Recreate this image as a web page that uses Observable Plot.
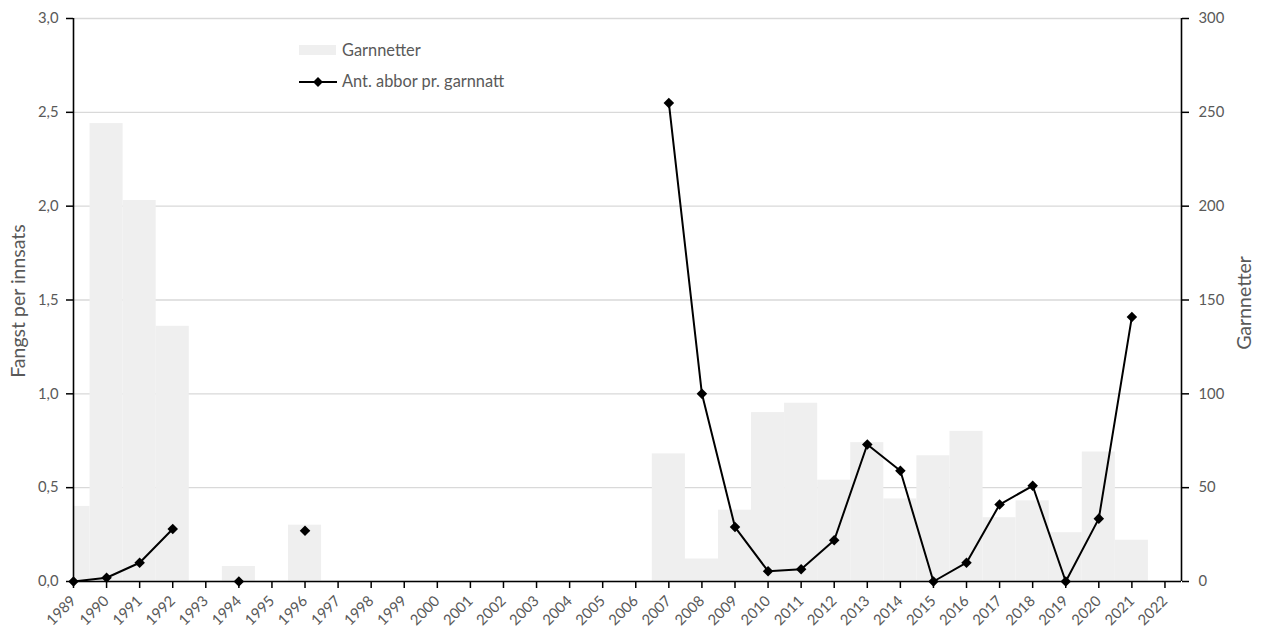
<!DOCTYPE html>
<html><head><meta charset="utf-8">
<script src="https://cdn.jsdelivr.net/npm/d3@7"></script>
<script src="https://cdn.jsdelivr.net/npm/@observablehq/plot@0.6"></script>
<style>
body{margin:0;background:#fff;font-family:Lato,"Open Sans",sans-serif;}
#wrap{position:relative;width:1266px;height:632px;}
.lbl{position:absolute;color:#595959;white-space:nowrap;line-height:1;}
</style></head><body><div id="wrap"></div>
<script>
const years = [1989,1990,1991,1992,1993,1994,1995,1996,1997,1998,1999,2000,2001,2002,2003,2004,2005,2006,2007,2008,2009,2010,2011,2012,2013,2014,2015,2016,2017,2018,2019,2020,2021];
const garnnetter = [40,244,203,136,null,8,null,30,null,null,null,null,null,null,null,null,null,null,68,12,38,90,95,54,74,44,67,80,34,43,26,69,22];
const abbor = [0,0.02,0.1,0.28,null,0,null,0.27,null,null,null,null,null,null,null,null,null,null,2.55,1.0,0.29,0.055,0.065,0.22,0.73,0.59,0,0.1,0.41,0.51,0,0.335,1.41];
const xTicks = [1989,1990,1991,1992,1993,1994,1995,1996,1997,1998,1999,2000,2001,2002,2003,2004,2005,2006,2007,2008,2009,2010,2011,2012,2013,2014,2015,2016,2017,2018,2019,2020,2021,2022];
const leftTicks = [0,0.5,1,1.5,2,2.5,3];
const rightTicks = [0,50,100,150,200,250,300];
const leftTitle = "Fangst per innsats";
const rightTitle = "Garnnetter";
const legendBar = "Garnnetter";
const legendLine = "Ant. abbor pr. garnnatt";

const FAMILY = "Lato";
const ctx = document.createElement("canvas").getContext("2d");
function fit(text, target){ ctx.font = `100px ${FAMILY}`; return 100*target/ctx.measureText(text).width; }
const tickSizePx = (fit("3,0",22) + fit("300",24))/2;
const titleSize = (fit(leftTitle,152) + fit(rightTitle,95))/2;
const legendSize = (fit(legendBar,78) + fit(legendLine,164))/2;

const rows = years.map((y,i)=>({year:y, garn:garnnetter[i], abbor:abbor[i]}));
const bars = rows.filter(d=>d.garn!=null);
const pts = rows.filter(d=>d.abbor!=null);
const fmt = d => d.toFixed(1).replace(".", ",");
const rScale = rightTicks[rightTicks.length-1] / leftTicks[leftTicks.length-1]; // 300 -> 3,0
const xEnd = 2022.5;
const textColor = "#595959";

const plot = Plot.plot({
  width:1266, height:632, marginLeft:73, marginRight:85, marginTop:18, marginBottom:51,
  style:{fontFamily:FAMILY, fontSize:tickSizePx+"px", background:"#fff", overflow:"visible"},
  x:{type:"linear", domain:[1989, xEnd], axis:null},
  y:{domain:[0,3], axis:null},
  marks:[
    Plot.gridY(leftTicks, {stroke:"#d9d9d9", strokeOpacity:1, strokeWidth:1.3}),
    Plot.rectY(bars, {x1:d=>d.year-0.5, x2:d=>d.year+0.5, y:d=>d.garn/rScale, fill:"#efefef", clip:true, inset:0}),
    Plot.ruleY([0], {stroke:"#000", strokeWidth:1.6}),
    Plot.ruleX([1989, xEnd], {stroke:"#000", strokeWidth:1.6}),
    Plot.axisY(leftTicks, {anchor:"left", tickSize:7, stroke:"#000", strokeWidth:1.5, tickFormat:()=>"", label:null}),
    Plot.axisY(leftTicks, {anchor:"left", tickSize:0, tickPadding:15, fill:textColor, tickFormat:fmt, label:null, fontSize:tickSizePx}),
    Plot.axisY(rightTicks.map(d=>d/rScale), {anchor:"right", tickSize:7, stroke:"#000", strokeWidth:1.5, tickFormat:()=>"", label:null}),
    Plot.axisY(rightTicks.map(d=>d/rScale), {anchor:"right", tickSize:0, tickPadding:17, fill:textColor, tickFormat:d=>String(Math.round(d*rScale)), label:null, fontSize:tickSizePx}),
    Plot.axisX(xTicks, {anchor:"bottom", tickSize:7, stroke:"#000", strokeWidth:1.5, tickFormat:()=>"", label:null}),
    Plot.axisX(xTicks, {anchor:"bottom", tickSize:0, tickPadding:17, tickRotate:-45, fill:textColor, tickFormat:d=>String(d), label:null, fontSize:tickSizePx}),
    Plot.line(rows, {x:"year", y:"abbor", stroke:"#000", strokeWidth:2, defined:d=>d.abbor!=null}),
    Plot.dot(pts, {x:"year", y:"abbor", symbol:"square", rotate:45, r:4.2, fill:"#000", stroke:null})
  ]
});
const wrap = document.getElementById("wrap");
wrap.appendChild(plot);

function addLabel(txt, left, top, size){
  const d = document.createElement("div");
  d.className = "lbl"; d.textContent = txt;
  d.style.fontSize = size+"px";
  d.style.left = left+"px"; d.style.top = top+"px";
  d.style.transform = "translate(-50%,-50%) rotate(-90deg)";
  wrap.appendChild(d);
  return d;
}
addLabel(leftTitle, 18, 301, titleSize);
addLabel(rightTitle, 1244, 303, titleSize);

// legend
const lg = document.createElement("div");
lg.style.cssText = "position:absolute;left:299px;top:0px;";
lg.innerHTML = `
<div style="position:absolute;left:0;top:45px;width:37px;height:10px;background:#efefef"></div>
<div class="lbl" style="left:43px;top:51px;transform:translateY(-55%);font-size:${legendSize}px">${legendBar}</div>
<svg style="position:absolute;left:0;top:75px" width="38" height="14"><line x1="0" x2="38" y1="7" y2="7" stroke="#000" stroke-width="2"/><rect x="15.5" y="3.5" width="7" height="7" transform="rotate(45 19 7)" fill="#000"/></svg>
<div class="lbl" style="left:43px;top:82px;transform:translateY(-55%);font-size:${legendSize}px">${legendLine}</div>`;
wrap.appendChild(lg);
</script></body></html>
